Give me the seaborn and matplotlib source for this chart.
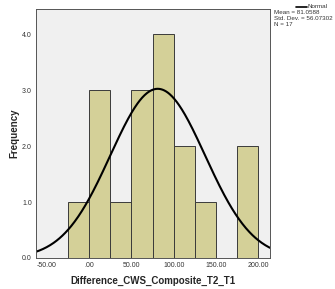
import numpy as np
import pandas as pd
import matplotlib
matplotlib.use("Agg")
import matplotlib.pyplot as plt
import seaborn as sns

bin_centers = [-12.5, 12.5, 37.5, 62.5, 87.5, 112.5, 137.5, 162.5, 187.5]
counts = [1, 3, 1, 3, 4, 2, 1, 0, 2]
bin_edges = [-25, 0, 25, 50, 75, 100, 125, 150, 175, 200]
mean = 81.0588
sd = 56.07302
n = 17
xticks = [-50, 0, 50, 100, 150, 200]
xticklabels = ["-50.00", ".00", "50.00", "100.00", "150.00", "200.00"]
yticks = [0, 1, 2, 3, 4]
yticklabels = ["0.0", "1.0", "2.0", "3.0", "4.0"]

sns.set_style("white")
plt.rcParams['font.family'] = ['Liberation Sans', 'DejaVu Sans']

fig = plt.figure(figsize=(3.35, 2.89), dpi=100)
ax = fig.add_axes([36/335, 1 - 258/289, 234/335, 249/289])
ax.set_facecolor("#f0f0f0")

df = pd.DataFrame({"x": bin_centers, "w": counts})
sns.histplot(data=df, x="x", weights="w", bins=bin_edges, ax=ax,
             color="#d4d098", edgecolor="#3a3a3a", linewidth=0.7, alpha=1)

xs = np.linspace(-63, 214, 400)
ys = n * 25 * np.exp(-0.5 * ((xs - mean) / sd) ** 2) / (sd * np.sqrt(2 * np.pi))
ax.plot(xs, ys, color="black", linewidth=1.5)

ax.set_xlim(-63, 214)
ax.set_ylim(0, 4.45)
ax.set_xticks(xticks)
ax.set_xticklabels(xticklabels)
ax.set_yticks(yticks)
ax.set_yticklabels(yticklabels)
ax.tick_params(axis="both", labelsize=5, length=2, width=0.6, colors="#333333", pad=1)
for s in ax.spines.values():
    s.set_color("#555555")
    s.set_linewidth(0.7)
ax.set_xlabel("Difference_CWS_Composite_T2_T1", fontsize=7, fontweight="bold", labelpad=5)
ax.set_ylabel("Frequency", fontsize=7, fontweight="bold", labelpad=2)

fig.lines.append(plt.Line2D([296/335, 307/335], [1 - 7/289, 1 - 7/289],
                            transform=fig.transFigure, color="black", linewidth=1.2))
fig.text(308/335, 1 - 7/289, "Normal", fontsize=4.5, va="center", color="#333333")
fig.text(274/335, 1 - 13/289, "Mean = 81.0588", fontsize=4.5, va="center", color="#333333")
fig.text(274/335, 1 - 19/289, "Std. Dev. = 56.07302", fontsize=4.5, va="center", color="#333333")
fig.text(274/335, 1 - 25/289, "N = 17", fontsize=4.5, va="center", color="#333333")

fig.savefig("out.png", dpi=100)
